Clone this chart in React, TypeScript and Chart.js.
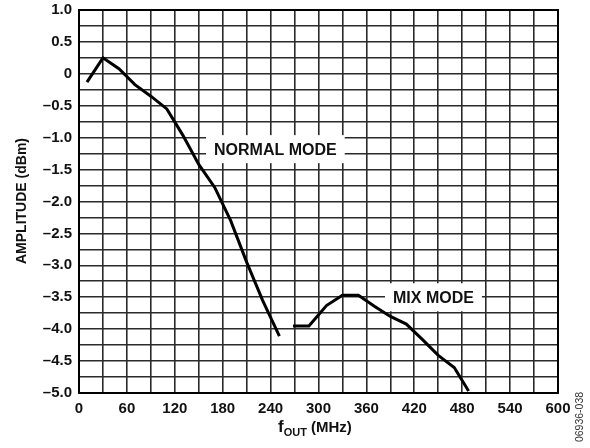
import React, { useEffect, useRef } from "react";
import { Chart, registerables } from "chart.js";

Chart.register(...registerables);

// Normal mode series (MHz, dBm)
const normalFreq = [10, 30, 50, 70, 90, 110, 130, 150, 170, 190, 210, 230, 251];
const normalAmp = [-0.13, 0.25, 0.08, -0.17, -0.35, -0.55, -0.96, -1.42, -1.78, -2.3, -2.95, -3.55, -4.11];

// Mix mode series
const mixFreq = [268, 288, 310, 330, 350, 370, 390, 410, 430, 450, 470, 488];
const mixAmp = [-3.95, -3.95, -3.63, -3.47, -3.47, -3.64, -3.8, -3.92, -4.16, -4.41, -4.6, -4.97];

// Axis settings
const xMin = 0;
const xMax = 600;
const xGridStep = 30;
const xLabelStep = 60;
const yMin = -5;
const yMax = 1;
const yGridStep = 0.25;
const yLabelStep = 0.5;

const annotations = [
  { text: "NORMAL MODE", x: 246, y: -1.18 },
  { text: "MIX MODE", x: 444, y: -3.5 },
];

const FONT = "'Liberation Sans', Arial, Helvetica, sans-serif";

const fmtY = (v: number) => {
  if (Math.abs(v) < 1e-9) return "0";
  return (v < 0 ? "\u2013" : "") + Math.abs(v).toFixed(1);
};

export default function App() {
  const ref = useRef<HTMLCanvasElement | null>(null);

  useEffect(() => {
    if (!ref.current) return;

    const labelPlugin = {
      id: "labels",
      beforeDatasetsDraw(chart: any) {
        const ctx = chart.ctx;
        const xs = chart.scales.x;
        const ys = chart.scales.y;
        ctx.save();
        ctx.font = `bold 16px ${FONT}`;
        ctx.textAlign = "center";
        ctx.textBaseline = "middle";
        for (const a of annotations) {
          const cx = xs.getPixelForValue(a.x);
          const cy = ys.getPixelForValue(a.y);
          const w = ctx.measureText(a.text).width;
          ctx.fillStyle = "#ffffff";
          ctx.fillRect(cx - w / 2 - 8, cy - 14, w + 16, 28);
          ctx.fillStyle = "#111";
          ctx.fillText(a.text, cx, cy + 1);
        }
        ctx.restore();
      },
      afterDraw(chart: any) {
        const ctx = chart.ctx;
        ctx.save();
        // Y title
        ctx.translate(22, 201);
        ctx.rotate(-Math.PI / 2);
        ctx.font = `bold 14px ${FONT}`;
        ctx.fillStyle = "#111";
        ctx.textAlign = "center";
        ctx.textBaseline = "middle";
        ctx.fillText("AMPLITUDE (dBm)", 0, 0);
        ctx.restore();

        // X title with subscript
        ctx.save();
        ctx.fillStyle = "#111";
        ctx.textBaseline = "alphabetic";
        ctx.textAlign = "left";
        let x = 278;
        ctx.font = `bold 17px ${FONT}`;
        ctx.fillText("f", x, 432);
        x += ctx.measureText("f").width;
        ctx.font = `bold 11px ${FONT}`;
        ctx.fillText("OUT", x, 436);
        x += ctx.measureText("OUT").width;
        ctx.font = `bold 15px ${FONT}`;
        ctx.fillText(" (MHz)", x, 432);
        ctx.restore();

        // Figure id
        ctx.save();
        ctx.translate(580, 417);
        ctx.rotate(-Math.PI / 2);
        ctx.font = `10.5px ${FONT}`;
        ctx.fillStyle = "#333";
        ctx.textAlign = "center";
        ctx.textBaseline = "middle";
        ctx.fillText("06936-038", 0, 0);
        ctx.restore();
      },
    };

    const chart = new Chart(ref.current, {
      type: "line",
      data: {
        datasets: [
          {
            label: "Normal mode",
            data: normalFreq.map((f, i) => ({ x: f, y: normalAmp[i] })),
            borderColor: "#000",
            borderWidth: 3,
            pointRadius: 0,
            tension: 0,
            fill: false,
          },
          {
            label: "Mix mode",
            data: mixFreq.map((f, i) => ({ x: f, y: mixAmp[i] })),
            borderColor: "#000",
            borderWidth: 3,
            pointRadius: 0,
            tension: 0,
            fill: false,
          },
        ],
      },
      options: {
        responsive: false,
        animation: false,
        events: [],
        layout: { padding: { left: 0, top: 10, right: 32, bottom: 0 } },
        plugins: {
          legend: { display: false },
          tooltip: { enabled: false },
          title: { display: false },
        },
        scales: {
          x: {
            type: "linear",
            min: xMin,
            max: xMax,
            afterFit: (s: any) => {
              s.height = 55;
              s.paddingRight = 0;
            },
            ticks: {
              stepSize: xGridStep,
              autoSkip: false,
              maxRotation: 0,
              padding: 7,
              color: "#111",
              font: { family: FONT, size: 15, weight: "bold" },
              callback: (v: any) => (Math.round(Number(v)) % xLabelStep === 0 ? String(Math.round(Number(v))) : ""),
            },
            grid: { color: "#2a2a2a", lineWidth: 1.6, drawTicks: false },
            border: { color: "#000", width: 2 },
          },
          y: {
            type: "linear",
            min: yMin,
            max: yMax,
            afterFit: (s: any) => {
              s.width = 79;
              s.paddingTop = 0;
              s.paddingBottom = 0;
            },
            ticks: {
              stepSize: yGridStep,
              autoSkip: false,
              padding: 7,
              color: "#111",
              font: { family: FONT, size: 15, weight: "bold" },
              callback: (v: any) => {
                const n = Number(v);
                const r = n / yLabelStep;
                return Math.abs(r - Math.round(r)) < 1e-6 ? fmtY(n) : "";
              },
            },
            grid: { color: "#2a2a2a", lineWidth: 1.6, drawTicks: false },
            border: { color: "#000", width: 2 },
          },
          x2: {
            type: "linear",
            position: "top",
            min: xMin,
            max: xMax,
            display: true,
            afterFit: (s: any) => {
              s.height = 0;
              s.paddingLeft = 0;
              s.paddingRight = 0;
            },
            ticks: { display: false },
            grid: { display: false, drawTicks: false },
            border: { color: "#000", width: 2 },
          },
          y2: {
            type: "linear",
            position: "right",
            min: yMin,
            max: yMax,
            display: true,
            afterFit: (s: any) => {
              s.width = 0;
              s.paddingTop = 0;
              s.paddingBottom = 0;
            },
            ticks: { display: false },
            grid: { display: false, drawTicks: false },
            border: { color: "#000", width: 2 },
          },
        },
      },
      plugins: [labelPlugin],
    } as any);

    return () => chart.destroy();
  }, []);

  return (
    <div style={{ position: "fixed", left: 0, top: 0, width: 590, height: 448, background: "#fff" }}>
      <canvas ref={ref} width={590} height={448} style={{ display: "block" }} />
    </div>
  );
}
